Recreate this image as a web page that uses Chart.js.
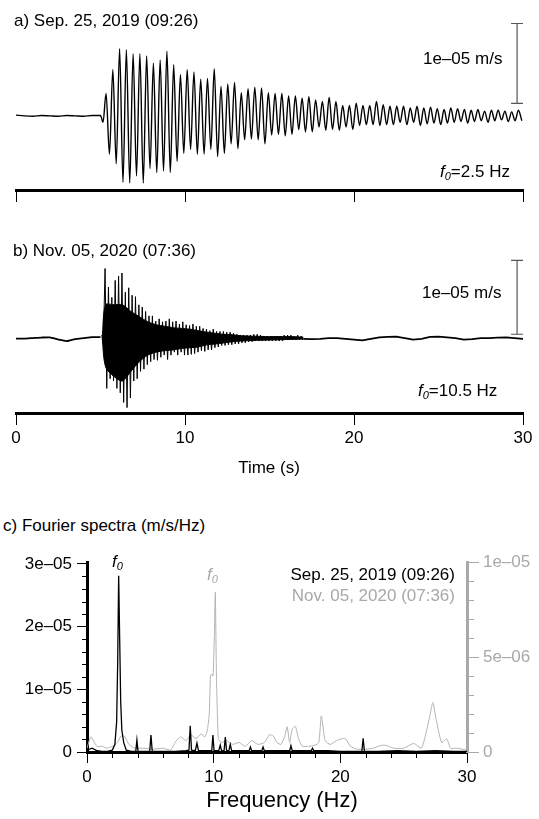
<!DOCTYPE html>
<html>
<head>
<meta charset="utf-8">
<script src="https://cdn.jsdelivr.net/npm/chart.js@4.4.0/dist/chart.umd.min.js"></script>
<style>
  body { margin: 0; background: #fff; width: 539px; height: 819px; position: relative; overflow: hidden;
         font-family: "Liberation Sans", Arial, sans-serif; }
  canvas { position: absolute; left: 0; }
  .t { position: absolute; font-size: 17px; line-height: 17px; white-space: nowrap; color: #000; z-index: 2; }
  .t sub { font-size: 11px; font-style: italic; vertical-align: -3px; line-height: 0; }
  .gray { color: #a8a8a8; }
</style>
</head>
<body>
<canvas id="panelA" width="539" height="215" style="top:0"></canvas>
<canvas id="panelB" width="539" height="230" style="top:230px"></canvas>
<canvas id="panelC" width="539" height="279" style="top:540px"></canvas>

<div class="t" style="left:14px;top:12px">a) Sep. 25, 2019 (09:26)</div>
<div class="t" style="left:423px;top:50px">1e–05 m/s</div>
<div class="t" style="left:440px;top:163px"><i>f</i><sub>0</sub>=2.5 Hz</div>

<div class="t" style="left:13px;top:242px">b) Nov. 05, 2020 (07:36)</div>
<div class="t" style="left:422px;top:284px">1e–05 m/s</div>
<div class="t" style="left:418px;top:382px"><i>f</i><sub>0</sub>=10.5 Hz</div>
<div class="t" style="left:269px;top:459px;transform:translateX(-50%)">Time (s)</div>

<div class="t" style="left:3px;top:517px">c) Fourier spectra (m/s/Hz)</div>
<div class="t" style="right:84px;top:566px">Sep. 25, 2019 (09:26)</div>
<div class="t gray" style="right:84px;top:587px">Nov. 05, 2020 (07:36)</div>
<div class="t" style="left:112px;top:553px"><i>f</i><sub>0</sub></div>
<div class="t gray" style="left:207px;top:566px"><i>f</i><sub>0</sub></div>
<div class="t" style="left:282px;top:789px;font-size:22px;line-height:22px;transform:translateX(-50%)">Frequency (Hz)</div>

<script>
// velocities in µm/s (1e-06 m/s), spectra in 1e-06 m/s/Hz

// a) Sep. 25, 2019 - quiet part, then alternating peaks every half cycle (2.5 Hz)
const aPreTime = [0, 0.5, 1, 1.5, 2, 2.5, 3, 3.5, 4, 4.5, 5, 5.15];
const aPreVel = [0.1, 0, -0.05, 0.05, 0, -0.05, 0.05, 0, -0.05, 0.05, 0.05, -0.8];
const aPeakStart = 5.33;
const aPeakStep = 0.2;
const aPeaks = [
  2.8, -4.8, 5.8, -6.0, 8.4, -8.3, 8.3, -8.4, 7.8, -7.5,
  7.8, -8.4, 7.5, -6.6, 6.6, -7.1, 7.0, -6.9, 8.1, -7.1,
  6.4, -5.7, 5.2, -4.7, 5.8, -4.2, 5.5, -4.8, 4.6, -4.8,
  4.7, -4.2, 5.9, -5.1, 3.7, -4.7, 4.0, -3.5, 4.2, -4.1,
  2.9, -3.0, 3.4, -2.9, 3.6, -3.0, 3.5, -3.5, 2.9, -2.4,
  2.8, -2.3, 2.8, -2.5, 2.5, -2.3, 2.5, -1.7, 2.2, -2.0,
  2.4, -2.0, 2.0, -1.4, 1.8, -1.8, 2.3, -1.7, 1.8, -1.8,
  1.3, -1.4, 1.3, -1.7, 1.6, -1.2, 1.3, -1.1, 1.3, -1.1,
  1.8, -1.2, 1.4, -1.1, 1.2, -1.1, 1.2, -0.8, 1.2, -1.1,
  1.0, -0.8, 1.2, -1.2, 1.0, -1.0, 1.1, -0.9, 0.9, -1.1,
  0.8, -0.9, 1.0, -0.8, 0.9, -0.7, 0.8, -0.9, 0.7, -0.7,
  0.8, -0.6, 0.6, -0.8, 0.7, -0.6, 0.7, -0.5, 0.6, -0.7,
  0.5, -0.6, 0.7, -0.6
];

// b) Nov. 05, 2020 - quiet start, coda as max/min per 0.2 s window, quiet tail
const bPreTime = [0, 0.5, 1, 1.5, 2, 2.5, 3, 3.5, 4, 4.5, 5];
const bPreVel = [-0.07, -0.07, 0, 0.07, 0.1, -0.2, -0.4, -0.13, 0, 0.13, 0.13];
const bCodaStart = 5.07;
const bCodaStep = 0.2;
const bCodaUpper = [
  0.4, 9.4, 6.9, 5.5, 7.8, 8.4, 8.8, 6.2, 6.8, 5.8,
  5.6, 4.5, 4.2, 3.6, 3.0, 3.0, 2.3, 2.6, 2.2, 2.3,
  2.6, 2.2, 2.3, 1.9, 2.2, 1.8, 1.7, 1.9, 1.6, 1.6,
  1.3, 1.2, 1.0, 1.2, 0.9, 0.9, 0.9, 0.8, 0.8, 0.65,
  0.5, 0.4, 0.4, 0.4, 0.4, 0.5, 0.5, 0.4, 0.26, 0.26,
  0.26, 0.26, 0.26, 0.26, 0.4, 0.4, 0.4, 0.26, 0.4, 0.26
];
const bCodaLower = [
  -0.4, -6.8, -5.5, -5.8, -6.8, -7.4, -8.7, -9.4, -8.1, -5.8,
  -5.5, -4.5, -4.2, -3.6, -3.2, -2.9, -3.0, -2.6, -2.3, -2.9,
  -2.3, -1.9, -2.3, -1.9, -2.3, -2.3, -2.2, -2.1, -1.9, -1.7,
  -1.8, -1.6, -1.6, -1.3, -1.2, -1.0, -1.0, -0.9, -0.9, -0.8,
  -0.8, -0.65, -0.65, -0.5, -0.5, -0.4, -0.4, -0.4, -0.4, -0.4,
  -0.4, -0.4, -0.4, -0.4, -0.26, -0.26, -0.26, -0.26, -0.26, -0.26
];
// the solid dark core of the coda (where the trace overlaps itself)
const bCoreTime = [5.1, 5.3, 5.8, 6.3, 6.8, 7.3, 7.8, 8.3, 8.8, 9.3, 9.8,
                   10.3, 10.8, 11.3, 11.8, 12.3, 12.8, 13.3, 14, 15, 16, 17];
const bCoreUpper = [0, 4.5, 4.5, 4.5, 3.6, 2.9, 2.2, 1.8, 1.6, 1.4, 1.3,
                    1.2, 1.0, 0.8, 0.65, 0.5, 0.45, 0.32, 0.26, 0.2, 0.2, 0.13];
const bCoreLower = [0, -3.9, -5.2, -5.8, -4.5, -3.2, -2.3, -1.9, -1.7, -1.6, -1.4,
                    -1.3, -1.2, -0.9, -0.8, -0.65, -0.5, -0.4, -0.32, -0.26, -0.2, -0.13];
const bTailTime = [17, 17.5, 18, 18.5, 19, 19.5, 20, 20.5, 21, 21.5, 22, 22.5, 23, 23.5,
                   24, 24.5, 25, 25.5, 26, 26.5, 27, 27.5, 28, 28.5, 29, 29.5, 30];
const bTailVel = [-0.1, -0.15, -0.1, 0, 0, -0.1, -0.2, -0.3, -0.1, 0.1, 0.15, 0.2, 0, -0.2,
                  -0.1, 0.15, 0.2, 0.1, 0, -0.2, -0.15, 0, 0, 0.05, 0.1, 0, -0.1];

// 1e-05 m/s scale bars (bottom, top) and where they stand
const barTime = 29.65;
const aBar = [1.57, 11.57];
const bBar = [0.52, 10.52];

const timeTicks = [0, 10, 20, 30];
const timeTickLabels = ['0', '10', '20', '30'];

// c) Fourier spectra
const sepFreq = [
  0, 0.4, 0.8, 1.2, 1.6, 2.0, 2.2, 2.34, 2.42, 2.5,
  2.58, 2.66, 2.75, 2.9, 3.1, 3.5, 3.85, 3.94, 4.03, 4.6,
  4.95, 5.05, 5.15, 6.0, 7.0, 7.8, 8.05, 8.15, 8.25, 8.55,
  8.68, 8.8, 9.5, 9.85, 9.94, 10.03, 10.4, 10.52, 10.62, 10.82,
  10.92, 11.02, 11.2, 11.31, 11.42, 12.0, 12.8, 12.9, 13.0, 13.8,
  13.9, 14.0, 15.0, 16.0, 16.1, 16.2, 17.0, 17.7, 17.8, 17.9,
  19.0, 20.0, 21.0, 21.7, 21.8, 21.9, 23.0, 24.5, 26.0, 27.5,
  29.0, 30
];
const sepAmp = [
  0.3, 0.6, 0.2, 0.1, 0.1, 0.3, 1.2, 4.8, 14, 28.1,
  18, 8, 3.5, 1.5, 0.3, 0.1, 0.1, 1.9, 0.1, 0.1,
  0.1, 2.7, 0.1, 0.1, 0.1, 0.2, 0.3, 4.2, 0.3, 0.2,
  1.4, 0.2, 0.2, 0.2, 2.7, 0.2, 0.2, 1.1, 0.2, 0.2,
  2.4, 0.2, 0.2, 1.2, 0.2, 0.2, 0.2, 0.8, 0.2, 0.2,
  0.8, 0.2, 0.2, 0.2, 1.0, 0.2, 0.2, 0.2, 0.6, 0.2,
  0.2, 0.1, 0.1, 0.1, 2.2, 0.1, 0.1, 0.2, 0.1, 0.2,
  0.1, 0.1
];
const novFreq = [
  0, 0.3, 0.5, 0.8, 1.2, 1.6, 2.0, 2.4, 2.7, 3.0,
  3.3, 3.8, 4.5, 5.2, 6.0, 6.6, 7.0, 7.4, 7.8, 8.2,
  8.6, 9.0, 9.3, 9.5, 9.65, 9.75, 9.85, 9.95, 10.05, 10.13,
  10.22, 10.37, 10.6, 11.0, 11.5, 12.0, 12.5, 13.0, 13.5, 14.0,
  14.4, 14.7, 15.0, 15.3, 15.6, 15.8, 16.0, 16.2, 16.45, 16.7,
  17.0, 17.5, 18.0, 18.3, 18.5, 18.8, 19.2, 19.7, 20.1, 20.4,
  20.8, 21.3, 22.0, 22.6, 23.2, 23.6, 24.2, 25.0, 25.8, 26.4,
  26.8, 27.1, 27.3, 27.6, 28.0, 28.4, 28.7, 29.2, 30
];
const novAmp = [
  0.2, 0.8, 0.6, 0.3, 0.3, 0.2, 0.3, 0.5, 0.85, 0.8,
  0.4, 0.2, 0.2, 0.15, 0.2, 0.1, 0.55, 0.8, 0.6, 0.9,
  0.7, 0.95, 0.8, 1.15, 2.0, 4.0, 4.1, 4.0, 6.0, 8.4,
  4.0, 0.7, 0.5, 0.6, 0.4, 0.5, 0.3, 0.6, 0.4, 0.5,
  0.9, 0.85, 0.5, 0.4, 0.8, 1.33, 0.5, 1.2, 1.35, 0.7,
  0.3, 0.3, 0.35, 0.5, 1.9, 0.6, 0.4, 0.6, 0.7, 0.7,
  0.3, 0.15, 0.15, 0.2, 0.35, 0.35, 0.2, 0.2, 0.45, 0.2,
  1.1, 2.0, 2.6, 1.6, 0.5, 0.7, 0.2, 0.2, 0.1
];

const freqTicks = [0, 10, 20, 30];
const freqTickLabels = ['0', '10', '20', '30'];
const freqMinor = [2, 4, 6, 8, 12, 14, 16, 18, 22, 24, 26, 28];
const sepTicks = [0, 10, 20, 30];
const sepTickLabels = ['0', '1e–05', '2e–05', '3e–05'];
const sepMinor = [2, 4, 6, 8, 12, 14, 16, 18, 22, 24, 26, 28];
const novTicks = [0, 5, 10];
const novTickLabels = ['0', '5e–06', '1e–05'];
const novMinor = [1, 2, 3, 4, 6, 7, 8, 9];

const GRAY = '#a8a8a8';
const FONT = { family: '"Liberation Sans", Arial, sans-serif', size: 17 };
Chart.defaults.animation = false;
Chart.defaults.font.family = FONT.family;

// short unlabeled ticks between the labeled ones
const minorTicks = {
  id: 'minorTicks',
  afterDraw(chart, args, opts) {
    const ctx = chart.ctx;
    (opts.list || []).forEach(m => {
      const s = chart.scales[m.axis];
      ctx.save();
      ctx.strokeStyle = m.color;
      ctx.lineWidth = 1;
      ctx.beginPath();
      m.values.forEach(v => {
        const p = Math.round(s.getPixelForValue(v)) + 0.5;
        if (s.isHorizontal()) {
          ctx.moveTo(p, s.top); ctx.lineTo(p, s.top + m.length);
        } else if (s.position === 'left') {
          ctx.moveTo(s.right, p); ctx.lineTo(s.right - m.length, p);
        } else {
          ctx.moveTo(s.left, p); ctx.lineTo(s.left + m.length, p);
        }
      });
      ctx.stroke();
      ctx.restore();
    });
  }
};

function timeAxis(showLabels, height) {
  return {
    type: 'linear', min: 0, max: 30,
    afterBuildTicks: s => { s.ticks = timeTicks.map(v => ({ value: v })); },
    afterFit: s => { s.height = height; },
    border: { display: true, width: 3, color: '#000' },
    grid: { drawOnChartArea: false, drawTicks: true, tickLength: 12, color: '#000', lineWidth: 1 },
    ticks: {
      display: showLabels, color: '#000', font: FONT, padding: 3,
      maxRotation: 0, autoSkip: false, callback: (v, i) => timeTickLabels[i]
    }
  };
}

function scaleBar(range) {
  return {
    data: range.map(v => ({ x: barTime, y: v })),
    borderColor: '#555', borderWidth: 1.2,
    pointStyle: 'line', pointRadius: 6, pointBorderWidth: 1.2, pointBorderColor: '#555'
  };
}

function waveOptions(yMin, yMax, showLabels, xHeight) {
  return {
    responsive: false,
    layout: { padding: { left: 16, right: 16, top: 0, bottom: 0 } },
    plugins: { legend: { display: false }, tooltip: { enabled: false } },
    scales: {
      x: timeAxis(showLabels, xHeight),
      y: { type: 'linear', display: false, min: yMin, max: yMax }
    }
  };
}

// panel a
const aWave = aPreTime.map((t, i) => ({ x: t, y: aPreVel[i] }))
  .concat(aPeaks.map((v, i) => ({ x: aPeakStart + i * aPeakStep, y: v })));

new Chart(document.getElementById('panelA'), {
  type: 'line',
  data: {
    datasets: [
      { data: aWave, borderColor: '#000', borderWidth: 1.4, pointRadius: 0, cubicInterpolationMode: 'monotone' },
      scaleBar(aBar)
    ]
  },
  options: waveOptions(-9.28, 13.61, false, 25)
});

// panel b: the coda is too dense to resolve; zigzag through the window
// maxima/minima on top of the filled core
const bCoda = [];
bCodaUpper.forEach((v, i) => {
  const t = bCodaStart + i * bCodaStep;
  bCoda.push({ x: t, y: v });
  bCoda.push({ x: t + bCodaStep / 2, y: bCodaLower[i] });
});

new Chart(document.getElementById('panelB'), {
  type: 'line',
  data: {
    datasets: [
      { data: bPreTime.map((t, i) => ({ x: t, y: bPreVel[i] })), borderColor: '#000', borderWidth: 1.8, pointRadius: 0, tension: 0.2 },
      { data: bCoda, borderColor: '#000', borderWidth: 1, pointRadius: 0, tension: 0 },
      { data: bCoreTime.map((t, i) => ({ x: t, y: bCoreUpper[i] })), borderColor: '#000', borderWidth: 1,
        pointRadius: 0, tension: 0.3, fill: '+1', backgroundColor: '#000' },
      { data: bCoreTime.map((t, i) => ({ x: t, y: bCoreLower[i] })), borderColor: '#000', borderWidth: 1,
        pointRadius: 0, tension: 0.3 },
      { data: bTailTime.map((t, i) => ({ x: t, y: bTailVel[i] })), borderColor: '#000', borderWidth: 1.8, pointRadius: 0, tension: 0 },
      scaleBar(bBar)
    ]
  },
  options: waveOptions(-10.13, 13.64, true, 47)
});

// panel c
new Chart(document.getElementById('panelC'), {
  type: 'line',
  data: {
    datasets: [
      { data: sepFreq.map((f, i) => ({ x: f, y: sepAmp[i] })), yAxisID: 'yL',
        borderColor: '#000', borderWidth: 1.3, pointRadius: 0, tension: 0 },
      { data: novFreq.map((f, i) => ({ x: f, y: novAmp[i] })), yAxisID: 'yR',
        borderColor: '#b3b3b3', borderWidth: 1, pointRadius: 0, tension: 0.2 }
    ]
  },
  options: {
    responsive: false,
    layout: { padding: { left: 0, right: 0, top: 22, bottom: 0 } },
    plugins: {
      legend: { display: false },
      tooltip: { enabled: false },
      minorTicks: {
        list: [
          { axis: 'x', values: freqMinor, length: 6, color: '#000' },
          { axis: 'yL', values: sepMinor, length: 5, color: '#000' },
          { axis: 'yR', values: novMinor, length: 7, color: GRAY }
        ]
      }
    },
    scales: {
      x: {
        type: 'linear', min: 0, max: 30,
        afterBuildTicks: s => { s.ticks = freqTicks.map(v => ({ value: v })); },
        afterFit: s => { s.height = 67; },
        border: { display: true, width: 3, color: '#000' },
        grid: { drawOnChartArea: false, tickLength: 11, color: '#000', lineWidth: 1 },
        ticks: { color: '#000', font: FONT, padding: 4, maxRotation: 0, autoSkip: false,
                 callback: (v, i) => freqTickLabels[i] }
      },
      yL: {
        type: 'linear', position: 'left', min: 0, max: 30.3,
        afterBuildTicks: s => { s.ticks = sepTicks.map(v => ({ value: v })); },
        afterFit: s => { s.width = 87; },
        border: { display: true, width: 3, color: '#000' },
        grid: { drawOnChartArea: false, tickLength: 10, color: '#000', lineWidth: 1 },
        ticks: { color: '#000', font: FONT, padding: 5, autoSkip: false,
                 callback: (v, i) => sepTickLabels[i] }
      },
      yR: {
        type: 'linear', position: 'right', min: 0, max: 10,
        afterBuildTicks: s => { s.ticks = novTicks.map(v => ({ value: v })); },
        afterFit: s => { s.width = 72; },
        border: { display: true, width: 3, color: GRAY },
        grid: { drawOnChartArea: false, tickLength: 12, color: GRAY, lineWidth: 1 },
        ticks: { color: GRAY, font: FONT, padding: 4, autoSkip: false,
                 callback: (v, i) => novTickLabels[i] }
      }
    }
  },
  plugins: [minorTicks]
});
</script>
</body>
</html>
